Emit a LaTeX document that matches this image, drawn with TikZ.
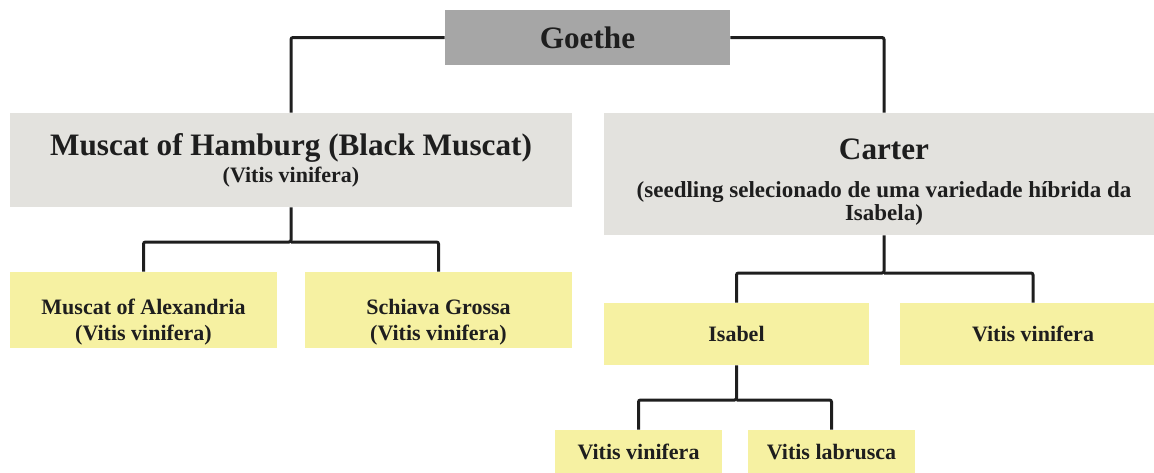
\documentclass[tikz,border=0pt]{standalone}
\usepackage{fontspec}
\setmainfont{Liberation Serif}
\usetikzlibrary{calc,positioning}

\definecolor{goethegray}{HTML}{A6A6A6}
\definecolor{parentgray}{HTML}{E3E2DE}
\definecolor{vineyellow}{HTML}{F6F1A2}
\definecolor{inkdark}{HTML}{1E1E1E}

\newcommand{\bigname}{\fontsize{15.6}{19}\selectfont\bfseries}
\newcommand{\smallname}{\fontsize{11}{13}\selectfont\bfseries}
\newcommand{\notename}{\fontsize{11.5}{13}\selectfont\bfseries}

\begin{document}
\begin{tikzpicture}[x=0.5pt,y=-0.5pt,
  box/.style={inner sep=0pt,align=center,text=inkdark},
  root/.style={box,fill=goethegray,minimum width=142.5pt,minimum height=27.5pt,font=\bigname},
  parent/.style={box,fill=parentgray,font=\bigname},
  leaf/.style={box,fill=vineyellow,font=\smallname},
  link/.style={line width=1.5pt,draw=inkdark,rounded corners=1pt}]
\useasboundingbox (0,0) rectangle (1154,472);

% boxes
\node[root] (goethe) at (587.5,37.5) {Goethe};
\node[parent,minimum width=281pt,minimum height=47pt] (hamburg) at (291,160)
  {Muscat of Hamburg (Black Muscat)\\[-5.5pt]\smallname (Vitis vinifera)};
\node[parent,minimum width=280pt,minimum height=61pt] (carter) at (884,174)
  {\rule{0pt}{18pt}Carter\\[0pt]\notename (seedling selecionado de uma variedade híbrida da\\[-7.5pt]\notename Isabela)};
\node[leaf,minimum width=133.5pt,minimum height=38pt] (alex) at (143.5,310)
  {\rule{0pt}{20pt}Muscat of Alexandria\\(Vitis vinifera)};
\node[leaf,minimum width=133.5pt,minimum height=38pt] (schiava) at (438.5,310)
  {\rule{0pt}{20pt}Schiava Grossa\\(Vitis vinifera)};
\node[leaf,minimum width=132.5pt,minimum height=31pt] (isabel) at (736.5,334) {Isabel};
\node[leaf,minimum width=133pt,minimum height=31pt] (vinright) at (1033,334) {Vitis vinifera};
\node[leaf,minimum width=83.5pt,minimum height=22pt] (vinbottom) at (638.5,452) {Vitis vinifera};
\node[leaf,minimum width=83.5pt,minimum height=22pt] (labrusca) at (831.5,452) {Vitis labrusca};

% connectors
\coordinate (hamburgbar) at (291,242);
\coordinate (carterbar) at (884,273);
\coordinate (isabelbar) at (736.5,400);
\draw[link] (goethe.west) -| (hamburg.north);
\draw[link] (goethe.east) -| (carter.north);
\draw[link] (hamburg.south) -- (hamburgbar) -| (alex.north);
\draw[link] (hamburgbar) -| (schiava.north);
\draw[link] (carter.south) -- (carterbar) -| (isabel.north);
\draw[link] (carterbar) -| (vinright.north);
\draw[link] (isabel.south) -- (isabelbar) -| (vinbottom.north);
\draw[link] (isabelbar) -| (labrusca.north);

\end{tikzpicture}
\end{document}
